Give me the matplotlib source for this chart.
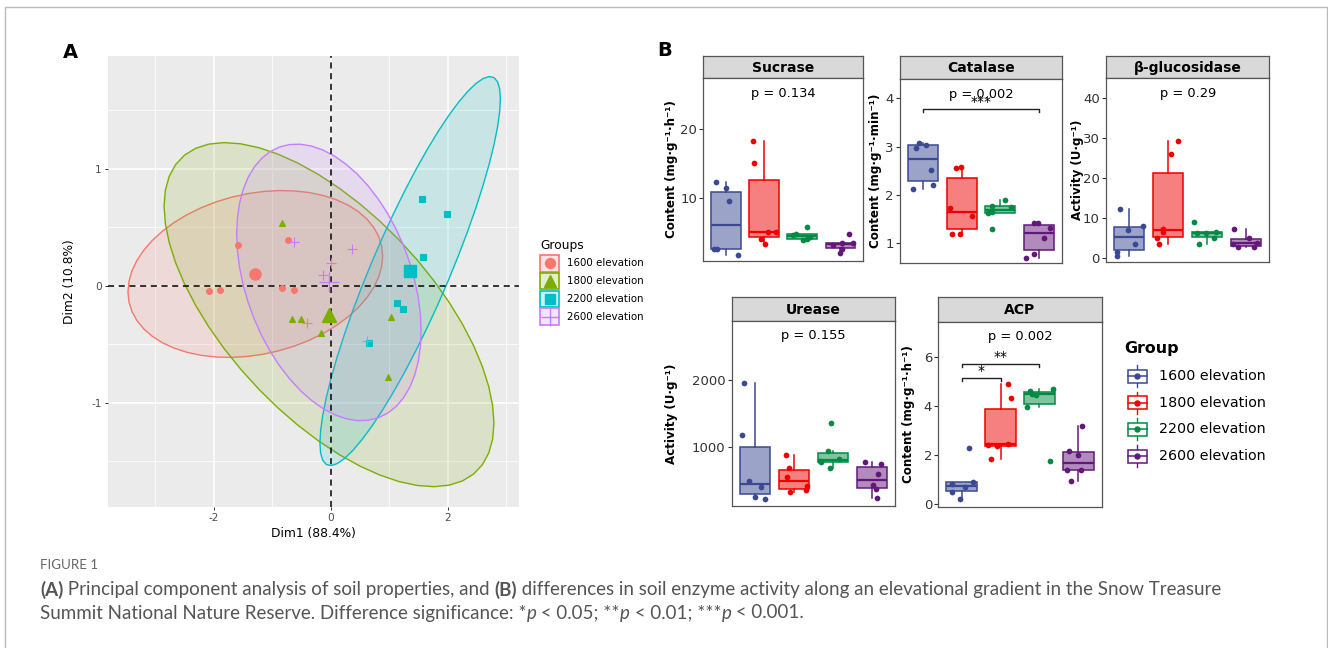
import numpy as np
import matplotlib
matplotlib.use("Agg")
import matplotlib.pyplot as plt
from matplotlib.patches import Rectangle, Polygon
from matplotlib.colors import to_rgba

plt.rcParams["axes.unicode_minus"] = False

W, H = 1328, 648

# ---------------- Panel A data: PCA individuals ----------------
GROUP_LABELS = ["1600 elevation", "1800 elevation", "2200 elevation", "2600 elevation"]
DIM1_LABEL = "Dim1 (88.4%)"
DIM2_LABEL = "Dim2 (10.8%)"

pca_1600_x = [-1.58, -0.725, -2.08, -1.90, -0.83, -0.627]
pca_1600_y = [0.348, 0.393, -0.045, -0.034, -0.017, -0.04]
pca_1800_x = [-0.838, -0.662, -0.513, -0.171, 1.031, 0.974]
pca_1800_y = [0.539, -0.282, -0.282, -0.407, -0.265, -0.783]
pca_2200_x = [1.555, 1.983, 1.578, 1.133, 1.241, 0.66]
pca_2200_y = [0.744, 0.61, 0.243, -0.151, -0.202, -0.49]
pca_2600_x = [-0.622, 0.359, 0.005, -0.137, -0.41, 0.615]
pca_2600_y = [0.371, 0.314, 0.191, 0.091, -0.322, -0.473]

pca_ticks_x = [-2, 0, 2]
pca_ticks_y = [-1, 0, 1]

# ---------------- Panel B data: enzyme activity ----------------
ENZYMES = ["Sucrase", "Catalase", "β-glucosidase", "Urease", "ACP"]
Y_LABELS = ["Content (mg·g⁻¹·h⁻¹)", "Content (mg·g⁻¹·min⁻¹)", "Activity (U·g⁻¹)",
            "Activity (U·g⁻¹)", "Content (mg·g⁻¹·h⁻¹)"]
P_TEXT = ["p = 0.134", "p = 0.002", "p = 0.29", "p = 0.155", "p = 0.002"]

# values per group: 1600, 1800, 2200, 2600
sucrase = [[12.3, 11.4, 9.57, 2.56, 2.56, 1.78],
           [18.26, 15.07, 5.12, 5.12, 4.06, 3.28],
           [5.8, 4.75, 4.6, 4.3, 4.0, 3.95],
           [4.73, 3.5, 3.5, 3.2, 2.56, 1.97]]
catalase = [[3.08, 3.04, 2.97, 2.52, 2.2, 2.12],
            [2.57, 2.55, 1.72, 1.56, 1.19, 1.18],
            [1.88, 1.77, 1.75, 1.63, 1.62, 1.29],
            [1.42, 1.40, 1.31, 1.09, 0.76, 0.69]]
glucosidase = [[12.25, 8.15, 7.08, 3.58, 1.65, 0.58],
               [29.4, 26.0, 7.3, 6.6, 5.0, 3.58],
               [9.15, 6.65, 6.3, 6.2, 5.0, 3.58],
               [7.3, 5.1, 3.9, 3.6, 2.9, 2.7]]
urease = [[1955, 1172, 484, 388, 247, 217],
          [870, 684, 548, 406, 348, 318],
          [1352, 935, 820, 780, 763, 684],
          [773, 734, 583, 418, 367, 222]]
acp = [[2.29, 0.91, 0.8, 0.7, 0.5, 0.2],
       [4.9, 4.33, 2.44, 2.42, 2.36, 1.83],
       [4.69, 4.6, 4.5, 4.45, 3.96, 1.75],
       [3.17, 2.15, 2.0, 1.37, 1.37, 0.93]]

Y_TICKS = [[10, 20], [1, 2, 3, 4], [0, 10, 20, 30, 40], [1000, 2000], [0, 2, 4, 6]]
Y_LIMS = [(0.913, 27.35), (0.572, 4.397), (-1.0, 45.0), (107, 2898), (-0.11, 7.43)]

# significance brackets: (enzyme index, group a, group b, height, label)
brackets = [(1, 1, 4, 3.77, "***"),
            (4, 1, 2, 5.12, "*"),
            (4, 1, 3, 5.69, "**")]

PCA_COLORS = ["#F8766D", "#7CAE00", "#00BFC4", "#C77CFF"]
PCA_MARKERS = ["o", "^", "s", "+"]
BOX_COLORS = ["#3B4992", "#EE0000", "#008B45", "#631879"]

fig = plt.figure(figsize=(W / 100, H / 100), dpi=100)
fig.patch.set_facecolor("white")


def px_axes(x0, y0, x1, y1):
    # axes placed by pixel box (top-left origin)
    return fig.add_axes([x0 / W, 1 - y1 / H, (x1 - x0) / W, (y1 - y0) / H])


def conf_ellipse(x, y, level=0.95, segments=51):
    # same as ggplot stat_ellipse(type = "norm")
    pts = np.column_stack([x, y])
    n = len(pts)
    center = pts.mean(axis=0)
    cov = np.cov(pts, rowvar=False)
    d = n - 1
    fq = d / 2 * ((1 - level) ** (-2 / d) - 1)  # qf(level, 2, n - 1)
    radius = np.sqrt(2 * fq)
    t = np.linspace(0, 2 * np.pi, segments)
    circle = np.column_stack([np.cos(t), np.sin(t)])
    chol = np.linalg.cholesky(cov)
    return center + radius * circle @ chol.T


# ---------------- Panel A ----------------
axA = px_axes(108, 56, 519, 507)
axA.set_facecolor("#EBEBEB")
axA.set_xlim(-3.81, 3.22)
axA.set_ylim(-1.89, 1.963)
for s in axA.spines.values():
    s.set_visible(False)
axA.set_xticks(pca_ticks_x)
axA.set_yticks(pca_ticks_y)
axA.set_xticks([-3, -1, 1, 3], minor=True)
axA.set_yticks([-1.5, -0.5, 0.5, 1.5], minor=True)
axA.grid(which="major", color="white", linewidth=1.1)
axA.grid(which="minor", color="white", linewidth=0.55)
axA.set_axisbelow(True)
axA.tick_params(which="major", length=2.5, width=0.7, color="#333333",
                labelsize=7.6, labelcolor="#4D4D4D", pad=2)
axA.tick_params(which="minor", length=0)

pca_sets = [(pca_1600_x, pca_1600_y), (pca_1800_x, pca_1800_y),
            (pca_2200_x, pca_2200_y), (pca_2600_x, pca_2600_y)]
for (gx, gy), c in zip(pca_sets, PCA_COLORS):
    ell = conf_ellipse(gx, gy)
    axA.add_patch(Polygon(ell, closed=True, facecolor=to_rgba(c, 0.15),
                          edgecolor=c, linewidth=1.0, zorder=1))

axA.axhline(0, color="black", linestyle=(0, (4, 3)), linewidth=1.1, zorder=2)
axA.axvline(0, color="black", linestyle=(0, (4, 3)), linewidth=1.1, zorder=2)

marker_size = [4.2, 5.0, 4.2, 7.5]
for (gx, gy), c, m, ms in zip(pca_sets, PCA_COLORS, PCA_MARKERS, marker_size):
    axA.plot(gx, gy, linestyle="none", marker=m, color=c, ms=ms, mew=0.8, zorder=3)
    axA.plot(np.mean(gx), np.mean(gy), linestyle="none", marker=m, color=c,
             ms=ms * 1.9, mew=1.0, zorder=3)

axA.set_xlabel(DIM1_LABEL, fontsize=8.8, labelpad=3)
axA.set_ylabel(DIM2_LABEL, fontsize=8.8, va="center")
axA.yaxis.set_label_coords((70 - 108) / 411, 0.5)

# ---------------- Panel B ----------------
panels = [
    # strip top, panel left, right, strip bottom, panel bottom, ylabel x
    (56, 703.3, 863.3, 78.3, 260.7, 672),
    (56, 900, 1061.7, 79.3, 263.3, 876),
    (56, 1106, 1269.3, 78.3, 262.3, 1078),
    (297.3, 731.7, 895, 320.7, 506, 672),
    (297.3, 938.3, 1101.7, 321.7, 506.7, 909),
]
enzyme_values = [sucrase, catalase, glucosidase, urease, acp]
rng = np.random.default_rng(11)

for k, (st, x0, x1, sb, pb, lx) in enumerate(panels):
    strip = px_axes(x0, st, x1, sb)
    strip.set_facecolor("#D9D9D9")
    strip.set_xticks([])
    strip.set_yticks([])
    for s in strip.spines.values():
        s.set_color("#555555")
        s.set_linewidth(0.9)
    strip.text(0.5, 0.47, ENZYMES[k], ha="center", va="center",
               fontsize=10, fontweight="bold", transform=strip.transAxes)

    ax = px_axes(x0, sb, x1, pb)
    vals = enzyme_values[k]
    bp = ax.boxplot(vals, positions=[1, 2, 3, 4], widths=0.78, patch_artist=True,
                    showfliers=False, showcaps=False, whis=1.5)
    for i, c in enumerate(BOX_COLORS):
        bp["boxes"][i].set(facecolor=to_rgba(c, 0.5), edgecolor=c, linewidth=1.1)
        bp["medians"][i].set(color=c, linewidth=1.6)
        for wsk in bp["whiskers"][2 * i:2 * i + 2]:
            wsk.set(color=c, linewidth=1.1)
        jx = (i + 1) + rng.uniform(-0.35, 0.35, len(vals[i]))
        ax.scatter(jx, vals[i], s=17, color=c, linewidths=0, zorder=4)

    ax.set_xlim(0.4, 4.6)
    ax.set_ylim(*Y_LIMS[k])
    ax.set_xticks([])
    ax.set_yticks(Y_TICKS[k])
    ax.tick_params(axis="y", length=3, width=0.8, color="#333333",
                   labelsize=9.5, labelcolor="#333333", pad=1.5)
    for s in ax.spines.values():
        s.set_color("#555555")
        s.set_linewidth(0.9)
    ax.text(2.5, 0.918, P_TEXT[k], ha="center", va="center", fontsize=9.4,
            transform=ax.get_xaxis_transform())
    ax.set_ylabel(Y_LABELS[k], fontsize=8.6, fontweight="bold", va="center")
    ax.yaxis.set_label_coords((lx - x0) / (x1 - x0), 0.5)

    span = Y_LIMS[k][1] - Y_LIMS[k][0]
    for (bk, ga, gb, hy, lab) in brackets:
        if bk != k:
            continue
        tick = span * 0.016
        ax.plot([ga, ga, gb, gb], [hy - tick, hy, hy, hy - tick], color="#222222",
                linewidth=1.0, zorder=5)
        ax.text((ga + gb) / 2, hy + span * 0.002, lab, ha="center", va="bottom",
                fontsize=10, zorder=5)

# ---------------- overlay: labels, legends, caption, frame ----------------
ov = fig.add_axes([0, 0, 1, 1])
ov.set_xlim(0, W)
ov.set_ylim(H, 0)
ov.axis("off")
ov.patch.set_alpha(0)

ov.add_patch(Rectangle((4.5, 6.5), W - 6, H + 20, fill=False, edgecolor="#BBBBBB",
                       linewidth=1.0))

ov.text(70, 53, "A", fontsize=14, fontweight="bold", ha="center", va="center")
ov.text(665, 50, "B", fontsize=14, fontweight="bold", ha="center", va="center")

# legend panel A
ov.text(540, 245, "Groups", fontsize=8.8, ha="left", va="center")
for i, (lab, c, m, ms) in enumerate(zip(GROUP_LABELS, PCA_COLORS, PCA_MARKERS, marker_size)):
    yc = 263.3 + i * 17.8
    ov.add_patch(Rectangle((540, yc - 8.3), 19, 16.6, facecolor=to_rgba(c, 0.2),
                           edgecolor=c, linewidth=1.2))
    ov.plot(549.5, yc, marker=m, color=c, ms=ms * 1.7 if m != "+" else 13,
            mew=1.0, linestyle="none")
    ov.text(567, yc, lab, fontsize=7.4, ha="left", va="center")

# legend panel B
ov.text(1124, 348, "Group", fontsize=11.4, fontweight="bold", ha="left", va="center")
for i, (lab, c) in enumerate(zip(GROUP_LABELS, BOX_COLORS)):
    yc = 376 + i * 26.7
    ov.plot([1137, 1137], [yc - 11, yc + 11], color=c, linewidth=1.0)
    ov.add_patch(Rectangle((1127.5, yc - 6.5), 19, 13, facecolor="white",
                           edgecolor=c, linewidth=1.1, zorder=3))
    ov.plot([1127.5, 1146.5], [yc, yc], color=c, linewidth=1.1, zorder=4)
    ov.plot(1137, yc, marker="o", color=c, ms=3.6, zorder=5)
    ov.text(1159, yc, lab, fontsize=10.3, ha="left", va="center")

# caption
CAP_FONT = "Lato"
CAP_COLOR = "#555555"
ov.text(40, 565, "FIGURE 1", fontsize=9.6, color="#666666", family=CAP_FONT,
        ha="left", va="center")

renderer = fig.canvas.get_renderer()


def text_runs(x, y, runs, size):
    for s, weight, style in runs:
        t = ov.text(x, y, s, fontsize=size, fontweight=weight, fontstyle=style,
                    family=CAP_FONT, color=CAP_COLOR, ha="left", va="center")
        x += t.get_window_extent(renderer).width


line1 = [("(A)", "bold", "normal"),
         (" Principal component analysis of soil properties, and ", "normal", "normal"),
         ("(B)", "bold", "normal"),
         (" differences in soil enzyme activity along an elevational gradient in the Snow Treasure",
          "normal", "normal")]
line2 = [("Summit National Nature Reserve. Difference significance: *", "normal", "normal"),
         ("p", "normal", "italic"), (" < 0.05; **", "normal", "normal"),
         ("p", "normal", "italic"), (" < 0.01; ***", "normal", "normal"),
         ("p", "normal", "italic"), (" < 0.001.", "normal", "normal")]
text_runs(40, 590, line1, 13.5)
text_runs(40, 613, line2, 13.5)

fig.savefig("out.png", dpi=100)
